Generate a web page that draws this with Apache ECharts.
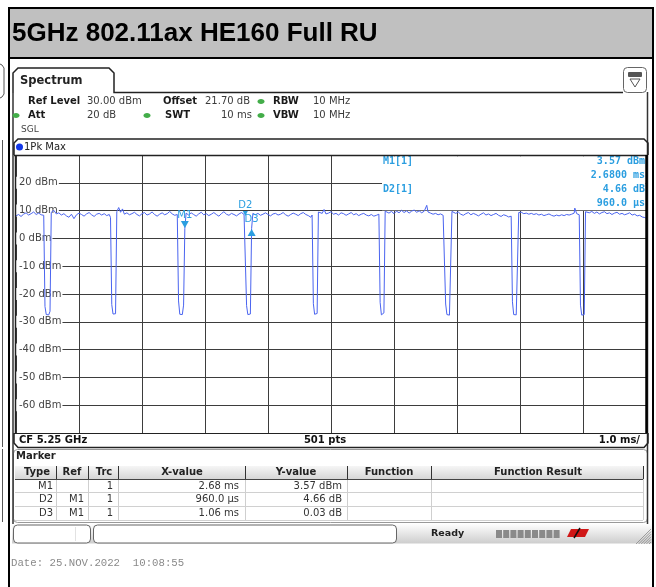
<!DOCTYPE html>
<html><head><meta charset="utf-8">
<script src="https://cdn.jsdelivr.net/npm/echarts@6/dist/echarts.min.js"></script>
<style>html,body{margin:0;padding:0;background:#fff}#c{width:656px;height:587px}</style>
</head><body><div id="c"></div>
<script>
// ---------------- data ----------------
const chartTitle = '5GHz 802.11ax HE160 Full RU';
const yMin = -70, yMax = 30, yStep = 10;   // dBm
const xMin = 0, xMax = 10, xStep = 1;      // ms
const yUnit = ' dBm';
// trace: [time ms, level dBm]
const trace = [
 [0,8.1],[0.04,8.6],[0.08,7.9],[0.12,8.7],[0.16,9.2],[0.2,8.4],[0.24,8.9],[0.28,9.5],[0.32,8.6],[0.36,9.1],[0.4,8.5],[0.44,8.3],
 [0.46,-24.5],[0.48,-27.4],[0.5,-27.9],[0.52,-27.5],[0.54,-26.2],[0.56,9.4],
 [0.6,10.1],[0.64,8.8],[0.68,9.2],[0.72,8.4],[0.76,8.9],[0.8,8.1],[0.84,7.6],[0.88,8.7],[0.92,7.1],[0.96,8.5],[1.0,9.1],[1.04,8.6],[1.08,8.0],[1.12,8.8],[1.16,9.3],[1.2,8.5],[1.24,7.9],[1.28,8.7],[1.32,9.0],[1.36,8.4],[1.4,8.9],[1.44,8.2],[1.48,8.6],[1.5,7.5],
 [1.52,-23.8],[1.54,-27.2],[1.56,-27.8],[1.58,-27.1],[1.6,9.6],
 [1.63,11.1],[1.66,9.4],[1.69,10.6],[1.72,8.7],[1.76,9.2],[1.8,8.5],[1.84,8.9],[1.88,9.4],[1.92,8.6],[1.96,8.1],[2.0,8.9],[2.04,9.3],[2.08,8.4],[2.12,8.8],[2.16,9.5],[2.2,8.6],[2.24,8.0],[2.28,8.7],[2.32,9.2],[2.36,8.5],[2.4,8.9],[2.44,9.7],[2.48,8.8],[2.52,8.3],[2.56,8.6],
 [2.58,-22.5],[2.6,-27.3],[2.62,-27.9],[2.64,-27.4],[2.66,-24.0],[2.68,3.57],[2.7,9.1],
 [2.74,8.4],[2.78,9.2],[2.82,8.6],[2.86,8.0],[2.9,8.8],[2.94,9.4],[2.98,8.5],[3.02,8.9],[3.06,8.2],[3.1,8.7],[3.14,9.3],[3.18,8.6],[3.22,8.0],[3.26,8.9],[3.3,9.6],[3.34,8.7],[3.38,8.3],[3.42,9.0],[3.46,8.6],[3.5,8.1],[3.54,8.8],[3.58,9.3],[3.62,8.6],[3.64,8.23],
 [3.66,-24.2],[3.68,-27.4],[3.7,-27.8],[3.72,-27.2],[3.74,3.6],[3.76,9.0],
 [3.8,8.5],[3.84,9.0],[3.88,8.3],[3.92,8.7],[3.96,9.2],[4.0,8.6],[4.04,8.1],[4.08,8.8],[4.12,9.0],[4.16,8.4],[4.2,8.7],[4.24,9.3],[4.28,8.5],[4.32,8.0],[4.36,8.6],[4.4,9.1],[4.44,8.7],[4.48,8.2],[4.52,8.9],[4.56,9.3],[4.6,8.6],[4.64,8.2],[4.68,7.6],[4.7,8.4],
 [4.72,-23.5],[4.74,-27.3],[4.76,-27.8],[4.78,-27.0],[4.8,9.5],
 [4.83,10.2],[4.86,9.0],[4.89,10.4],[4.92,8.8],[4.96,9.1],[5.0,9.6],[5.04,8.7],[5.08,9.0],[5.12,8.4],[5.16,9.2],[5.2,8.9],[5.24,8.3],[5.28,8.8],[5.32,9.3],[5.36,8.5],[5.4,8.9],[5.44,8.2],[5.48,8.7],[5.52,9.0],[5.56,8.4],[5.6,8.1],[5.64,8.6],[5.68,8.0],[5.72,8.3],[5.76,8.7],
 [5.78,-23.0],[5.8,-27.5],[5.82,-27.9],[5.84,-26.8],[5.86,9.8],
 [5.89,10.5],[5.92,9.1],[5.96,9.7],[6.0,8.9],[6.04,9.8],[6.08,9.2],[6.12,10.1],[6.16,9.3],[6.2,9.9],[6.24,9.1],[6.28,9.8],[6.32,10.2],[6.36,9.4],[6.4,9.9],[6.44,9.2],[6.48,9.8],[6.52,11.9],[6.54,9.5],[6.58,9.1],[6.62,8.7],[6.66,9.0],[6.7,8.5],[6.74,8.8],[6.78,8.3],[6.8,8.1],
 [6.82,-23.6],[6.84,-27.4],[6.86,-27.9],[6.88,-27.6],[6.9,-26.9],[6.92,9.7],
 [6.95,9.6],[6.98,9.0],[7.02,9.5],[7.06,8.7],[7.1,8.3],[7.14,8.9],[7.18,9.3],[7.22,8.5],[7.26,9.0],[7.3,8.6],[7.34,8.1],[7.38,8.7],[7.42,9.2],[7.46,8.4],[7.5,8.8],[7.54,8.2],[7.58,8.6],[7.62,9.0],[7.66,8.3],[7.7,7.9],[7.74,8.5],[7.78,8.2],[7.82,7.7],[7.86,8.0],
 [7.88,-22.8],[7.9,-27.4],[7.92,-27.9],[7.94,-27.5],[7.96,-27.0],[7.98,9.3],
 [8.02,9.4],[8.06,8.9],[8.1,9.1],[8.14,8.7],[8.18,9.0],[8.22,8.6],[8.26,8.9],[8.3,8.4],[8.34,8.7],[8.38,8.2],[8.42,8.5],[8.46,8.8],[8.5,8.3],[8.54,8.0],[8.58,8.4],[8.62,8.1],[8.66,8.5],[8.7,8.2],[8.74,8.6],[8.78,8.4],[8.82,8.7],[8.86,9.1],[8.87,10.9],[8.9,8.9],[8.94,8.5],
 [8.96,-24.0],[8.98,-27.6],[9.0,-28.0],[9.02,-27.4],[9.04,9.6],
 [9.07,10.0],[9.1,9.2],[9.14,9.7],[9.18,9.0],[9.22,9.5],[9.26,8.8],[9.3,9.3],[9.34,9.6],[9.38,8.9],[9.42,9.2],[9.46,8.6],[9.5,9.1],[9.54,9.4],[9.58,8.7],[9.62,9.0],[9.66,8.5],[9.7,8.8],[9.74,9.2],[9.78,8.4],[9.82,8.7],[9.86,8.1],[9.9,8.3],[9.94,7.7],[9.98,7.5],[10,7.3]
];
// markers
const markerNames = ['M1','D2','D3'];
const markerRefs  = ['', 'M1', 'M1'];
const markerTrc   = ['1','1','1'];
const markerXText = ['2.68 ms','960.0 µs','1.06 ms'];
const markerYText = ['3.57 dBm','4.66 dB','0.03 dB'];
const markerXVal  = [2.68, 0.96, 1.06];   // ms (deltas relative to M1)
const markerYVal  = [3.57, 4.66, 0.03];   // dBm / dB
const tableHeaders = ['Type','Ref','Trc','X-value','Y-value','Function','Function Result'];
const infoLines = [['M1[1]','3.57 dBm'],['','2.6800 ms'],['D2[1]','4.66 dB'],['','960.0 µs']];
const settingsRow1 = [['Ref Level','30.00 dBm'],['Offset','21.70 dB'],['RBW','10 MHz']];
const settingsRow2 = [['Att','20 dB'],['SWT','10 ms'],['VBW','10 MHz']];
const footer = {cf:'CF 5.25 GHz', pts:'501 pts', div:'1.0 ms/'};
const dateText = 'Date: 25.NOV.2022  10:08:55';

// ---------------- drawing ----------------
const UI = '"DejaVu Sans", Verdana, sans-serif';
const MARK = '#2b9ee0';
const G = [];
function T(x, y, text, size, weight, color, align, family, z) {
  G.push({type:'text', x:x, y:y, z:z==null?5:z, silent:true,
    style:{text:text, font:(weight||'normal')+' '+size+'px '+(family||UI), fill:color||'#222',
      textAlign:align||'left', textVerticalAlign:'middle', verticalAlign:'middle'}});
}
function R(x, y, w, h, fill, stroke, lw, r, z) {
  G.push({type:'rect', z:z==null?3:z, silent:true, shape:{x:x, y:y, width:w, height:h, r:r||0},
    style:{fill:fill||'none', stroke:stroke||'none', lineWidth:lw||1}});
}
function L(x1, y1, x2, y2, color, lw, z) {
  G.push({type:'line', z:z==null?4:z, silent:true, shape:{x1:x1,y1:y1,x2:x2,y2:y2},
    style:{stroke:color||'#000', lineWidth:lw||1}});
}
function dot(cx, cy, color, rx, ry) {
  G.push({type:'ellipse', z:5, silent:true, shape:{cx:cx, cy:cy, rx:rx||3.5, ry:ry||2.5}, style:{fill:color}});
}

// title band
R(9, 8, 644, 50, '#c0c0c0', null, 1, 0, 2);
L(8, 8, 654, 8, '#000', 2);
L(8, 58, 654, 58, '#000', 2);
L(9, 7, 9, 587, '#000', 2);
L(653, 7, 653, 587, '#000', 2);
T(12, 34, chartTitle, 26, 'bold', '#000', 'left', '"Liberation Sans", Arial, sans-serif');
// left-edge fragments of neighbouring cell
G.push({type:'polyline', z:4, silent:true, shape:{points:[[0,64],[2,65],[4,68],[4,94],[2,97],[0,98]]}, style:{stroke:'#555', lineWidth:1, fill:'none'}});
L(2.5, 140, 2.5, 447, '#555', 1);
L(2.5, 449, 2.5, 522, '#555', 1);

// spectrum window
G.push({type:'polyline', z:4, silent:true, shape:{points:[[13,93],[13,73],[18,68],[109,68],[114,73],[114,92.5],[623,92.5]]}, style:{stroke:'#222', lineWidth:1.5, fill:'none'}});
L(13, 93, 13, 524, '#333', 1.5);
L(647.5, 92, 647.5, 524, '#333', 1.5);
T(20, 81, 'Spectrum', 11.5, 'bold', '#222');
// icon
R(623.5, 67.5, 23, 25, '#fff', '#666', 1, 4, 4);
R(628, 72, 14, 5, '#555', null, 1, 1, 5);
G.push({type:'polygon', z:5, silent:true, shape:{points:[[630,79],[640,79],[635,87]]}, style:{fill:'none', stroke:'#555', lineWidth:1}});

// settings
const row1X = [[28,87],[163,205],[273,313]];
settingsRow1.forEach((p,i)=>{ T(row1X[i][0], 101.5, p[0], 10, 'bold', '#1a1a1a'); T(row1X[i][1], 101.5, p[1], 10, 'normal', '#3a3a3a'); });
const row2X = [[28,87],[165,221],[273,313]];
settingsRow2.forEach((p,i)=>{ T(row2X[i][0], 115.5, p[0], 10, 'bold', '#1a1a1a'); T(row2X[i][1], 115.5, p[1], 10, 'normal', '#3a3a3a'); });
dot(261, 101.5, '#43ad49'); dot(16, 115.5, '#43ad49'); dot(147, 115.5, '#43ad49'); dot(261, 115.5, '#43ad49');
T(21, 130, 'SGL', 9, 'normal', '#444');

// 1Pk Max bar
G.push({type:'polyline', z:4, silent:true, shape:{points:[[14,155],[14,143],[18,139],[644,139],[648,143],[648,155]]}, style:{stroke:'#222', lineWidth:1.5, fill:'none'}});
G.push({type:'circle', z:5, silent:true, shape:{cx:19.5, cy:147, r:3.5}, style:{fill:'#1237e8'}});
T(24, 147.5, '1Pk Max', 10, 'normal', '#222');

// plot frame
L(14, 155.5, 648, 155.5, '#222', 1.5, 6);
L(15.5, 155, 15.5, 433, '#222', 1.5, 6);
L(646.5, 155, 646.5, 434, '#000', 2.5, 6);
L(14, 433.5, 648, 433.5, '#222', 1.2, 6);

// marker info box (covers grid)
R(382, 156.3, 263.5, 54, '#fff', null, 1, 0, 1);
const infoY = [161, 175, 189, 203];
infoLines.forEach((p,i)=>{
  if (p[0]) T(383, infoY[i], p[0], 10, 'bold', MARK, 'left', '"DejaVu Sans Mono", monospace');
  T(645, infoY[i], p[1], 10, 'bold', MARK, 'right', '"DejaVu Sans Mono", monospace');
});

// CF bar
G.push({type:'polyline', z:4, silent:true, shape:{points:[[14,433],[14,443],[18,447.5],[644,447.5],[648,443],[648,433]]}, style:{stroke:'#222', lineWidth:1.5, fill:'none'}});
T(19, 440.5, footer.cf, 10, 'bold', '#111');
T(325, 440.5, footer.pts, 10, 'bold', '#111', 'center');
T(640, 440.5, footer.div, 10, 'bold', '#111', 'right');

// marker table
R(13.5, 449.5, 634, 73, '#fff', '#999', 1, 4, 2);
T(16, 456.5, 'Marker', 10, 'bold', '#222');
G.push({type:'rect', z:3, silent:true, shape:{x:15, y:466, width:628, height:13},
  style:{fill:new echarts.graphic.LinearGradient(0,0,0,1,[{offset:0,color:'#f6f6f6'},{offset:1,color:'#d6d6d6'}])}});
const colSep = [56.5, 88.5, 118.5, 245.5, 347.5, 431.5, 643.5];
colSep.forEach(x=>{ L(x, 466, x, 479, '#333', 1); L(x, 479, x, 520, '#cfcfcf', 1); });
L(15, 479.5, 643, 479.5, '#444', 1);
[492.5, 506.5, 520.5].forEach(y=>L(15, y, 643, y, '#d0d0d0', 1));
const headCX = [37, 72, 104, 182, 296, 389, 538];
tableHeaders.forEach((h,i)=>T(headCX[i], 472.5, h, 10, 'bold', '#222', 'center'));
const rowY = [486, 499.5, 513];
markerNames.forEach((n,i)=>{
  T(53, rowY[i], n, 10, 'normal', '#333', 'right');
  if (markerRefs[i]) T(84, rowY[i], markerRefs[i], 10, 'normal', '#333', 'right');
  T(113, rowY[i], markerTrc[i], 10, 'normal', '#333', 'right');
  T(239, rowY[i], markerXText[i], 10, 'normal', '#333', 'right');
  T(342, rowY[i], markerYText[i], 10, 'normal', '#333', 'right');
});

// status bar
G.push({type:'rect', z:2, silent:true, shape:{x:12, y:523.5, width:640, height:20},
  style:{fill:new echarts.graphic.LinearGradient(0,0,0,1,[{offset:0,color:'#ffffff'},{offset:1,color:'#cdcdcd'}])}});
R(13.5, 525, 77, 18, '#fff', '#666', 1, 4, 4);
L(75.5, 527, 75.5, 541, '#e2e2e2', 1, 5);
R(93.5, 525, 303, 18, '#fff', '#666', 1, 4, 4);
T(431, 534, 'Ready', 9.5, 'bold', '#222');
for (let k = 0; k < 9; k++) R(496 + k*7.2, 530, 6, 8, '#8a8a8a', null, 1, 0, 4);
G.push({type:'polygon', z:5, silent:true, shape:{points:[[567,537],[571,529],[589,529],[585,537]]}, style:{fill:'#d01818'}});
L(574, 538, 580, 528, '#111', 1.5, 6);
for (let k = 0; k < 6; k++) L(636 + k*2.6, 544, 651, 529 + k*2.6, '#888', 0.8, 5);

// date line
T(11, 563, dateText, 10.7, 'normal', '#8a8a8a', 'left', '"Liberation Mono", "Courier New", monospace');

// marker positions from table values
const m1 = [markerXVal[0], markerYVal[0]];
const d2 = [markerXVal[0] + markerXVal[1], markerYVal[0] + markerYVal[1]];
const d3 = [markerXVal[0] + markerXVal[2], markerYVal[0] + markerYVal[2]];
const mLabel = {show:true, position:'top', distance:1, color:MARK, fontSize:10, fontFamily:UI};

const chart = echarts.init(document.getElementById('c'), null, {renderer:'canvas'});
chart.setOption({
  backgroundColor:'#fff',
  animation:false,
  grid:{left:16, right:10, top:155, bottom:154, show:false},
  xAxis:{type:'value', min:xMin, max:xMax, interval:xStep,
    axisLine:{show:false}, axisTick:{show:false}, axisLabel:{show:false},
    splitLine:{show:true, lineStyle:{color:'#3d3d3d', width:1}}},
  yAxis:[
    {type:'value', min:yMin, max:yMax, interval:yStep,
     axisLine:{show:false}, axisTick:{show:false}, axisLabel:{show:false},
     splitLine:{show:true, lineStyle:{color:'#3d3d3d', width:1}}},
    {type:'value', min:yMin, max:yMax, interval:yStep, position:'left', z:1,
     axisLine:{show:false}, axisTick:{show:false}, splitLine:{show:false},
     axisLabel:{inside:true, margin:0, showMinLabel:false, showMaxLabel:false,
       formatter:v=>v+yUnit, color:'#444', fontSize:10, fontFamily:UI,
       backgroundColor:'#fff', padding:[1,1,1,3]}}
  ],
  series:[{
    type:'line', yAxisIndex:0, data:trace, showSymbol:false, z:3,
    lineStyle:{color:'#4a64f0', width:1}, silent:true,
    markPoint:{silent:true, data:[
      {coord:m1, symbol:'triangle', symbolRotate:180, symbolSize:[8,7], symbolOffset:[0,-4],
       itemStyle:{color:MARK}, label:Object.assign({}, mLabel, {formatter:markerNames[0]})},
      {coord:d2, symbol:'triangle', symbolRotate:180, symbolSize:[5,5], symbolOffset:[0,-2],
       itemStyle:{color:MARK}, label:Object.assign({}, mLabel, {formatter:markerNames[1]})},
      {coord:d3, symbol:'triangle', symbolSize:[8,7], symbolOffset:[0,4],
       itemStyle:{color:MARK}, label:Object.assign({}, mLabel, {formatter:markerNames[2], position:'top', distance:4})}
    ]}
  }],
  graphic:G
});
</script>
</body></html>
